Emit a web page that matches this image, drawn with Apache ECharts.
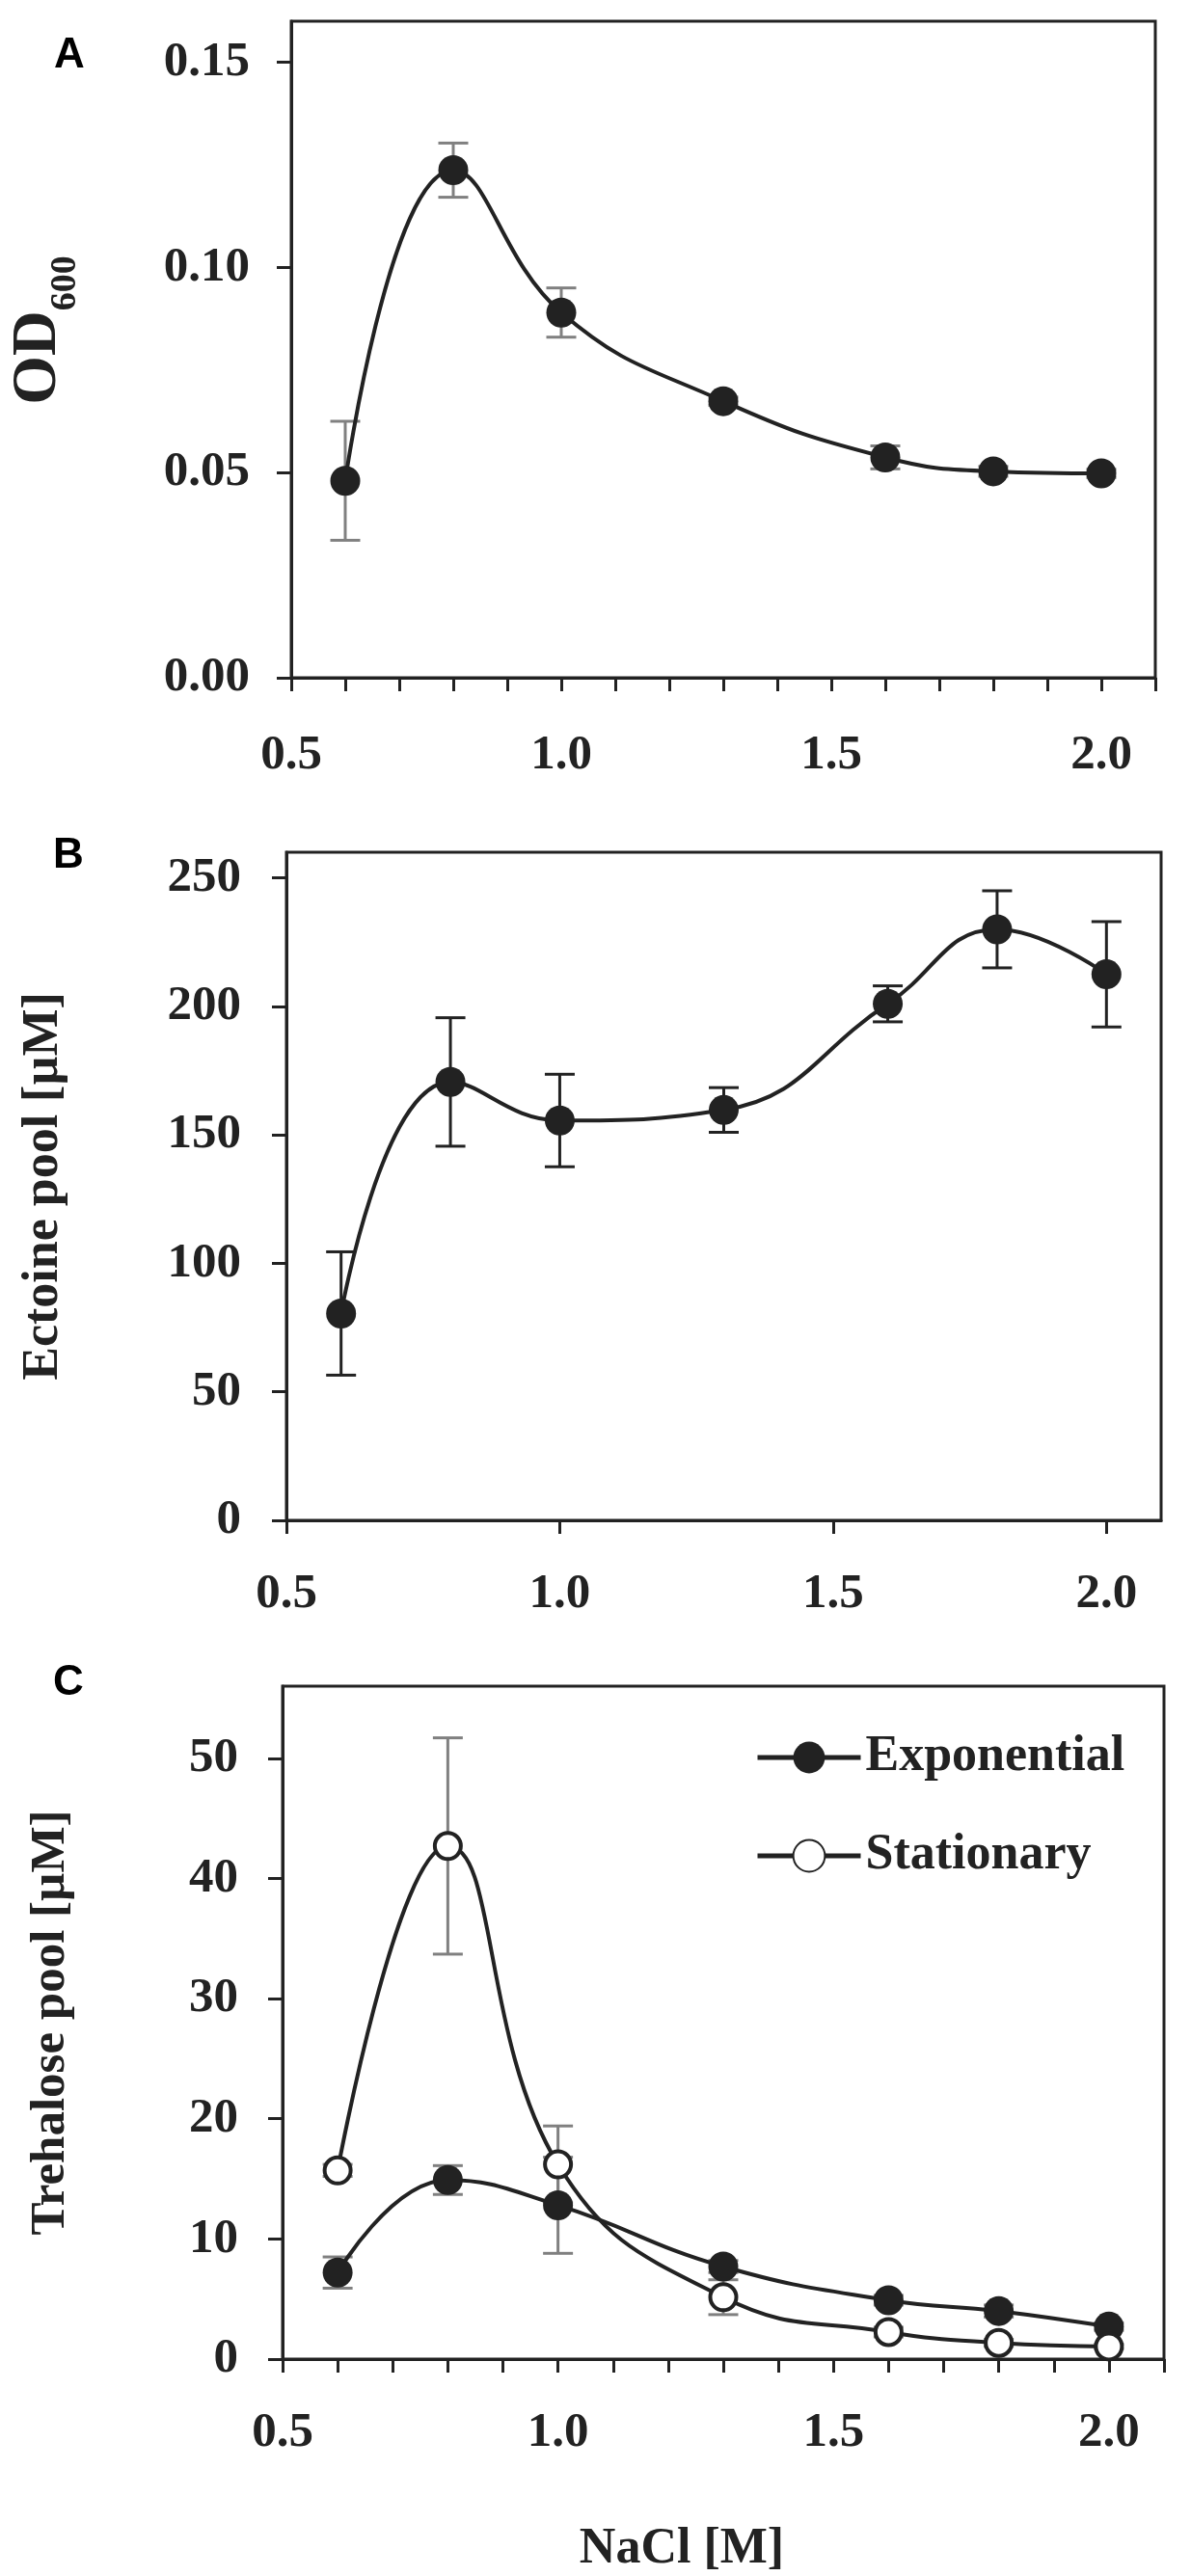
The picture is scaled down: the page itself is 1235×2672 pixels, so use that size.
<!DOCTYPE html>
<html>
<head>
<meta charset="utf-8">
<script src="https://cdn.jsdelivr.net/npm/echarts@6/dist/echarts.min.js"></script>
<style>
html,body{margin:0;padding:0;background:#fff;}
#chart{width:1235px;height:2672px;}
</style>
</head>
<body>
<div id="chart"></div>
<script>
// ---- data ----
const nacl = [0.6, 0.8, 1.0, 1.3, 1.6, 1.8, 2.0];
const odMean = [0.048, 0.1237, 0.089, 0.0674, 0.0537, 0.0503, 0.0498];
const odErr  = [0.0145, 0.0066, 0.006, 0.001, 0.0028, 0.0012, 0.001];
const ectMean = [80.5, 170.6, 155.6, 159.7, 201, 230, 212.5];
const ectErr  = [24, 25, 18, 8.7, 7, 15, 20.5];
const treExpMean = [7.2, 14.9, 12.8, 7.7, 4.9, 4.0, 2.7];
const treExpErr  = [1.3, 1.2, 4.0, 0.5, 0.4, 0.5, 0.3];
const treStatMean = [15.7, 42.7, 16.2, 5.15, 2.25, 1.35, 1.05];
const treStatErr  = [0.5, 9.0, 3.2, 1.45, 0.4, 0.3, 0.2];
const xLabels = [0.5, 1.0, 1.5, 2.0];
const xMinorTicks = [0.5,0.6,0.7,0.8,0.9,1.0,1.1,1.2,1.3,1.4,1.5,1.6,1.7,1.8,1.9,2.0,2.1];
const yTicksA = [0, 0.05, 0.10, 0.15];
const yTicksB = [0, 50, 100, 150, 200, 250];
const yTicksC = [0, 10, 20, 30, 40, 50];

// ---- helpers ----
const INK = '#222';
const GREY = '#808080';
const SERIF = '"Liberation Serif", "Times New Roman", serif';
const SANS = '"Liberation Sans", Arial, sans-serif';
const pairs = (xs, ys) => xs.map((x, i) => [x, ys[i]]);
const errRows = (xs, m, e) => xs.map((x, i) => [x, m[i] - e[i], m[i] + e[i]]);

function errRender(color) {
  return function (params, api) {
    const x = api.value(0);
    const lo = api.coord([x, api.value(1)]);
    const hi = api.coord([x, api.value(2)]);
    const w = 15.5;
    const st = { stroke: color, lineWidth: 3 };
    return {
      type: 'group',
      children: [
        { type: 'line', shape: { x1: lo[0], y1: lo[1], x2: hi[0], y2: hi[1] }, style: st },
        { type: 'line', shape: { x1: lo[0] - w, y1: lo[1], x2: lo[0] + w, y2: lo[1] }, style: st },
        { type: 'line', shape: { x1: hi[0] - w, y1: hi[1], x2: hi[0] + w, y2: hi[1] }, style: st }
      ]
    };
  };
}

const tickLabelStyle = { color: INK, fontFamily: SERIF, fontWeight: 'bold', fontSize: 51 };

function xAxis(gridIndex, ticks, margin, extra) {
  return Object.assign({
    type: 'value', gridIndex: gridIndex, min: 0.5, max: 2.1,
    axisLine: { show: true, lineStyle: { color: INK, width: 3 } },
    axisTick: { show: true, customValues: ticks, length: 14, inside: false, lineStyle: { color: INK, width: 3 } },
    axisLabel: Object.assign({ customValues: xLabels, margin: margin, formatter: v => v.toFixed(1) }, tickLabelStyle),
    splitLine: { show: false }
  }, extra || {});
}
function yAxis(gridIndex, max, ticks, fmt, margin, name, nameGap, nameStyle) {
  return {
    type: 'value', gridIndex: gridIndex, min: 0, max: max,
    axisLine: { show: true, lineStyle: { color: INK, width: 3 } },
    axisTick: { show: true, customValues: ticks, length: 15, lineStyle: { color: INK, width: 3 } },
    axisLabel: Object.assign({ customValues: ticks, margin: margin, formatter: fmt }, tickLabelStyle),
    splitLine: { show: false },
    name: name, nameLocation: 'middle', nameGap: nameGap, nameRotate: 90,
    nameTextStyle: nameStyle
  };
}

const gridBase = { show: true, borderColor: INK, borderWidth: 3, backgroundColor: 'transparent' };

const option = {
  animation: false,
  backgroundColor: '#fff',
  textStyle: { fontFamily: SERIF },
  graphic: [
    { type: 'text', left: 56, top: 36, style: { text: 'A', fontFamily: SANS, fontWeight: 'bold', fontSize: 44, fill: '#000' } },
    { type: 'text', left: 55, top: 866, style: { text: 'B', fontFamily: SANS, fontWeight: 'bold', fontSize: 44, fill: '#000' } },
    { type: 'text', left: 55, top: 1724, style: { text: 'C', fontFamily: SANS, fontWeight: 'bold', fontSize: 44, fill: '#000' } }
  ],
  grid: [
    Object.assign({ left: 291, top: 22, width: 907, height: 681 }, gridBase),
    Object.assign({ left: 297, top: 884, width: 907, height: 693 }, gridBase),
    Object.assign({ left: 293, top: 1749, width: 914, height: 702 }, gridBase)
  ],
  xAxis: [
    xAxis(0, xMinorTicks, 55),
    xAxis(1, xLabels, 51),
    xAxis(2, xMinorTicks, 51, {
      name: 'NaCl [M]', nameLocation: 'middle', nameGap: 172,
      nameTextStyle: { color: INK, fontFamily: SERIF, fontWeight: 'bold', fontSize: 52, padding: [0, 86, 0, 0] }
    })
  ],
  yAxis: [
    yAxis(0, 0.16, yTicksA, v => v.toFixed(2), 43, '{a|OD}{b|600}', 215, {
      color: INK, fontFamily: SERIF, fontWeight: 'bold', padding: [0, 0, 0, 40],
      rich: {
        a: { fontFamily: SERIF, fontWeight: 'bold', fontSize: 65, color: INK, verticalAlign: 'bottom', padding: [0, 0, 14, 0] },
        b: { fontFamily: SERIF, fontWeight: 'bold', fontSize: 38, color: INK, verticalAlign: 'bottom' }
      }
    }),
    yAxis(1, 260, yTicksB, v => String(v), 47, 'Ectoine pool [µM]', 225, {
      color: INK, fontFamily: SERIF, fontWeight: 'bold', fontSize: 52
    }),
    yAxis(2, 56, yTicksC, v => String(v), 46, 'Trehalose pool [µM]', 215, {
      color: INK, fontFamily: SERIF, fontWeight: 'bold', fontSize: 51
    })
  ],
  legend: {
    data: ['Exponential', 'Stationary'],
    orient: 'vertical', left: 778, top: 1790,
    itemWidth: 107, itemHeight: 41, itemGap: 46,
    lineStyle: { width: 5 },
    textStyle: { color: INK, fontFamily: SERIF, fontWeight: 'bold', fontSize: 52, lineHeight: 56 },
    selectedMode: false
  },
  series: [
    // panel A
    { type: 'custom', xAxisIndex: 0, yAxisIndex: 0, renderItem: errRender(GREY), data: errRows(nacl, odMean, odErr), encode: { x: 0, y: [1, 2] }, z: 1, silent: true },
    { type: 'line', xAxisIndex: 0, yAxisIndex: 0, data: pairs(nacl, odMean), smooth: 0.45, symbol: 'circle', symbolSize: 31,
      lineStyle: { color: INK, width: 4 }, itemStyle: { color: INK }, z: 3 },
    // panel B
    { type: 'custom', xAxisIndex: 1, yAxisIndex: 1, renderItem: errRender(INK), data: errRows(nacl, ectMean, ectErr), encode: { x: 0, y: [1, 2] }, z: 1, silent: true },
    { type: 'line', xAxisIndex: 1, yAxisIndex: 1, data: pairs(nacl, ectMean), smooth: 0.45, symbol: 'circle', symbolSize: 31,
      lineStyle: { color: INK, width: 4 }, itemStyle: { color: INK }, z: 3 },
    // panel C
    { type: 'custom', xAxisIndex: 2, yAxisIndex: 2, renderItem: errRender(GREY), data: errRows(nacl, treExpMean, treExpErr), encode: { x: 0, y: [1, 2] }, z: 1, silent: true },
    { type: 'custom', xAxisIndex: 2, yAxisIndex: 2, renderItem: errRender(GREY), data: errRows(nacl, treStatMean, treStatErr), encode: { x: 0, y: [1, 2] }, z: 1, silent: true },
    { name: 'Exponential', type: 'line', xAxisIndex: 2, yAxisIndex: 2, data: pairs(nacl, treExpMean), smooth: 0.45, symbol: 'circle', symbolSize: 31,
      lineStyle: { color: INK, width: 4 }, itemStyle: { color: INK }, z: 3 },
    { name: 'Stationary', type: 'line', xAxisIndex: 2, yAxisIndex: 2, data: pairs(nacl, treStatMean), smooth: 0.45, symbol: 'circle', symbolSize: 27,
      lineStyle: { color: INK, width: 4 }, itemStyle: { color: '#fff', borderColor: INK, borderWidth: 4 }, z: 4 }
  ]
};

const chart = echarts.init(document.getElementById('chart'), null, { renderer: 'canvas' });
chart.setOption(option);
</script>
</body>
</html>
